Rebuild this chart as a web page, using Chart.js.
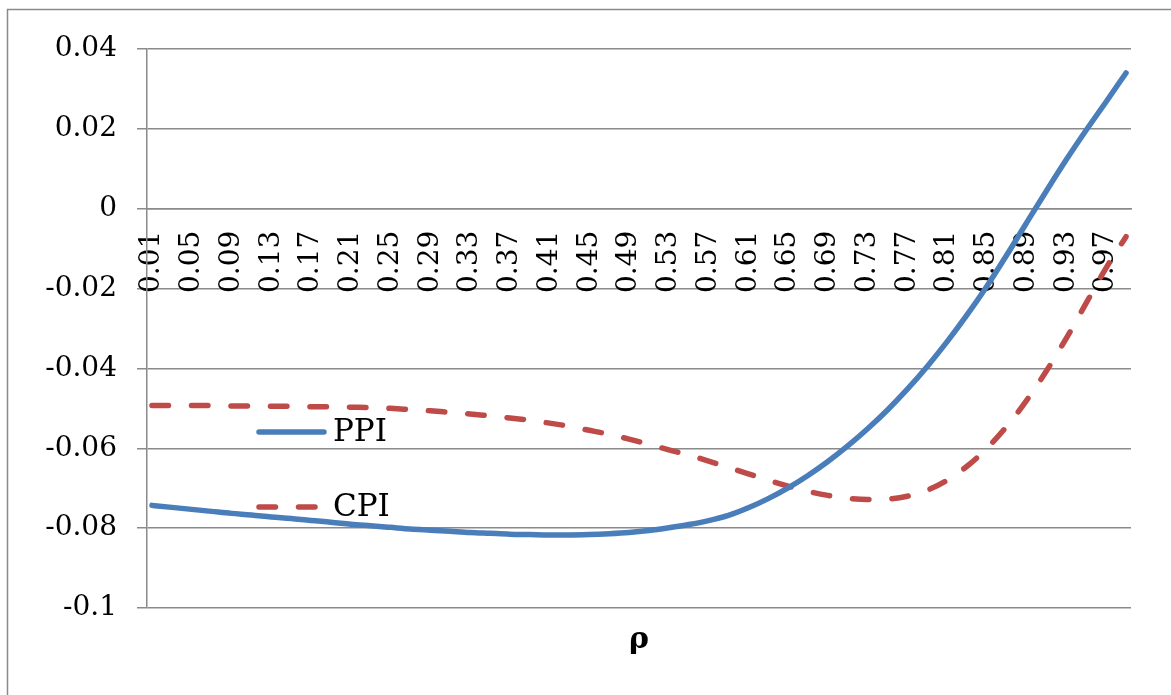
<!DOCTYPE html>
<html>
<head>
<meta charset="utf-8">
<script src="https://cdn.jsdelivr.net/npm/chart.js@4/dist/chart.umd.min.js"></script>
<style>
  html, body { margin: 0; padding: 0; background: #ffffff; }
  #wrap { width: 1171px; height: 695px; position: relative; }
</style>
</head>
<body>
<div id="wrap"><canvas id="c" width="1171" height="695"></canvas></div>
<script>
// ρ values at which both series are sampled
const rho = [
  0.01, 0.03, 0.05, 0.07, 0.09, 0.11, 0.13, 0.15, 0.17, 0.19,
  0.21, 0.23, 0.25, 0.27, 0.29, 0.31, 0.33, 0.35, 0.37, 0.39,
  0.41, 0.43, 0.45, 0.47, 0.49, 0.51, 0.53, 0.55, 0.57, 0.59,
  0.61, 0.63, 0.65, 0.67, 0.69, 0.71, 0.73, 0.75, 0.77, 0.79,
  0.81, 0.83, 0.85, 0.87, 0.89, 0.91, 0.93, 0.95, 0.97, 0.99
];

// PPI response
const ppi = [
  -0.0743, -0.0748, -0.0753, -0.0758, -0.0763, -0.0767, -0.0772, -0.0776, -0.0781, -0.0785,
  -0.0790, -0.0794, -0.0798, -0.0802, -0.0805, -0.0808, -0.0811, -0.0813, -0.0815, -0.0816,
  -0.0817, -0.0817, -0.0816, -0.0814, -0.0811, -0.0806, -0.0799, -0.0791, -0.0781, -0.0768,
  -0.0749, -0.0726, -0.0699, -0.0668, -0.0633, -0.0594, -0.0551, -0.0504, -0.0452, -0.0395,
  -0.0333, -0.0266, -0.0194, -0.0116, -0.0035, 0.0045, 0.0123, 0.0197, 0.0268, 0.0340
];

// CPI response
const cpi = [
  -0.0493, -0.0493, -0.0493, -0.0493, -0.0494, -0.0494, -0.0495, -0.0495, -0.0496, -0.0496,
  -0.0497, -0.0498, -0.0500, -0.0503, -0.0506, -0.0510, -0.0514, -0.0519, -0.0524, -0.0530,
  -0.0537, -0.0545, -0.0555, -0.0565, -0.0577, -0.0590, -0.0604, -0.0617, -0.0632, -0.0648,
  -0.0664, -0.0680, -0.0695, -0.0708, -0.0718, -0.0725, -0.0728, -0.0727, -0.0720, -0.0705,
  -0.0680, -0.0645, -0.0600, -0.0545, -0.0480, -0.0406, -0.0324, -0.0236, -0.0148, -0.0070
];

// Axis ticks
const xTicks = [
  0.01, 0.05, 0.09, 0.13, 0.17, 0.21, 0.25, 0.29, 0.33, 0.37, 0.41, 0.45, 0.49,
  0.53, 0.57, 0.61, 0.65, 0.69, 0.73, 0.77, 0.81, 0.85, 0.89, 0.93, 0.97
];
const yTicks = [-0.1, -0.08, -0.06, -0.04, -0.02, 0, 0.02, 0.04];

const seriesNames = ['PPI', 'CPI'];
const seriesColors = ['#4a7ebb', '#be4b48'];

const FONT = "'DejaVu Serif', 'Liberation Serif', serif";
const GRID = '#8a8a8a';
const DASH = [16.5, 23];
const LINE_W = 5.5;

// Outer frame around the chart object
const framePlugin = {
  id: 'frame',
  beforeDraw(chart) {
    const ctx = chart.ctx;
    ctx.save();
    ctx.strokeStyle = '#8a8a8a';
    ctx.lineWidth = 1.5;
    ctx.strokeRect(7.5, 9.5, 1400, 1000);
    ctx.restore();
  }
};

// Legend placed inside the plot, plus the ρ caption under it
const overlayPlugin = {
  id: 'overlay',
  afterDraw(chart) {
    const ctx = chart.ctx;
    ctx.save();
    const rows = [
      { y: 432, dash: [] },
      { y: 507, dash: DASH }
    ];
    rows.forEach((r, i) => {
      ctx.beginPath();
      ctx.setLineDash(r.dash);
      ctx.lineCap = 'round';
      ctx.lineWidth = LINE_W;
      ctx.strokeStyle = seriesColors[i];
      ctx.moveTo(259, r.y);
      ctx.lineTo(i === 0 ? 324 : 318, r.y);
      ctx.stroke();
      ctx.setLineDash([]);
      ctx.fillStyle = '#000';
      ctx.font = '31px ' + FONT;
      ctx.textAlign = 'left';
      ctx.textBaseline = 'middle';
      ctx.fillText(seriesNames[i], 333, r.y + 1);
    });
    ctx.font = 'bold 30px ' + FONT;
    ctx.textAlign = 'center';
    ctx.textBaseline = 'alphabetic';
    ctx.fillStyle = '#000';
    ctx.fillText('ρ', 639, 648);
    ctx.restore();
  }
};

const toPoints = vals => rho.map((r, i) => ({ x: r, y: vals[i] }));

new Chart(document.getElementById('c'), {
  type: 'line',
  data: {
    datasets: [
      {
        label: seriesNames[0],
        data: toPoints(ppi),
        borderColor: seriesColors[0],
        borderWidth: LINE_W,
        pointRadius: 0,
        cubicInterpolationMode: 'monotone',
        borderCapStyle: 'round',
        borderJoinStyle: 'round',
        fill: false
      },
      {
        label: seriesNames[1],
        data: toPoints(cpi),
        borderColor: seriesColors[1],
        borderWidth: LINE_W,
        borderDash: DASH,
        borderCapStyle: 'round',
        borderJoinStyle: 'round',
        pointRadius: 0,
        cubicInterpolationMode: 'monotone',
        fill: false
      }
    ]
  },
  options: {
    responsive: false,
    animation: false,
    events: [],
    layout: { padding: { left: 0, top: 49, right: 40, bottom: 87 } },
    plugins: {
      legend: { display: false },
      tooltip: { enabled: false },
      title: { display: false }
    },
    scales: {
      x: {
        type: 'linear',
        position: { y: 0 },
        min: 0.005,
        max: 0.995,
        afterBuildTicks: axis => { axis.ticks = xTicks.map(v => ({ value: v })); },
        grid: { display: false, drawTicks: false },
        border: { display: true, color: GRID, width: 1.5 },
        ticks: {
          autoSkip: false,
          minRotation: 90,
          maxRotation: 90,
          padding: 22,
          color: '#000',
          font: { family: FONT, size: 28 },
          callback: v => v.toFixed(2)
        }
      },
      y: {
        type: 'linear',
        min: -0.1,
        max: 0.04,
        afterBuildTicks: axis => { axis.ticks = yTicks.map(v => ({ value: v })); },
        afterFit: axis => { axis.width = 147; },
        grid: { color: GRID, lineWidth: 1.5, tickLength: 10, drawTicks: true },
        border: { display: true, color: GRID, width: 1.5 },
        ticks: {
          padding: 20,
          color: '#000',
          font: { family: FONT, size: 28 },
          callback: v => String(Number(v.toFixed(2)))
        }
      }
    }
  },
  plugins: [framePlugin, overlayPlugin]
});
</script>
</body>
</html>
